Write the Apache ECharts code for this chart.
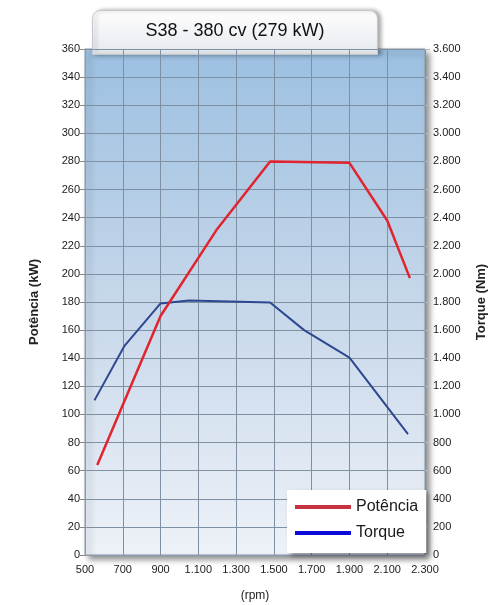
<!DOCTYPE html>
<html><head><meta charset="utf-8">
<script src="https://cdn.jsdelivr.net/npm/echarts@6/dist/echarts.min.js"></script>
<style>html,body{margin:0;padding:0;background:#fff}#c{width:488px;height:605px}</style>
</head><body><div id="c"></div>
<script>
const titleText = 'S38 - 380 cv (279 kW)';
const potenciaName = 'Potência';
const torqueName = 'Torque';
// [rpm, kW]
const potencia = [[565,64],[900,170],[1200,232],[1480,280],[1900,279],[2100,238],[2220,197]];
// [rpm, Nm]
const torque = [[550,1100],[710,1490],[900,1790],[1050,1810],[1480,1797],[1660,1600],[1900,1405],[2210,860]];
const xMin = 500, xMax = 2300, xStep = 200;
const yMin = 0, yMax = 360, yStep = 20;
const y2Min = 0, y2Max = 3600, y2Step = 200;

const fmt = v => String(v).replace(/\B(?=(\d{3})+(?!\d))/g, '.');
const FONT = 'Liberation Sans';
const chart = echarts.init(document.getElementById('c'));
chart.setOption({
  animation: false,
  textStyle: {fontFamily: FONT},
  graphic: [{
    type: 'rect', z: 0, left: 92, top: 10,
    shape: {width: 285, height: 44, r: [8, 8, 0, 0]},
    style: {
      fill: new echarts.graphic.LinearGradient(0, 0, 0, 1, [{offset: 0, color: '#ffffff'}, {offset: 1, color: '#e4e8ee'}]),
      stroke: '#c4c8ce', lineWidth: 1,
      shadowBlur: 4, shadowColor: 'rgba(0,0,0,0.35)', shadowOffsetX: 3, shadowOffsetY: 0
    }
  }],
  title: {
    text: titleText, left: 230, top: 17, textAlign: 'center',
    textStyle: {fontFamily: FONT, fontSize: 18, fontWeight: 'normal', color: '#111'}
  },
  grid: {
    show: true, left: 85, right: 63, top: 49, bottom: 50,
    outerBoundsMode: 'none', containLabel: false,
    backgroundColor: new echarts.graphic.LinearGradient(0, 0, 0, 1, [
      {offset: 0, color: '#9cc0e1'}, {offset: 0.5, color: '#c6d7ea'}, {offset: 1, color: '#eef2f8'}]),
    borderColor: '#8a9aac', borderWidth: 1,
    shadowBlur: 6, shadowColor: 'rgba(0,0,0,0.45)', shadowOffsetX: 4, shadowOffsetY: 4
  },
  legend: {
    orient: 'vertical', left: 287, top: 490, z: 10,
    backgroundColor: '#ffffff', padding: [9, 8, 12, 8], itemGap: 10,
    shadowBlur: 5, shadowColor: 'rgba(0,0,0,0.4)', shadowOffsetX: 3, shadowOffsetY: 3,
    itemWidth: 56, itemHeight: 4,
    textStyle: {fontFamily: FONT, fontSize: 16, color: '#1a1a1a'},
    data: [
      {name: potenciaName, icon: 'rect', itemStyle: {color: '#c8323e'}},
      {name: torqueName, icon: 'rect', itemStyle: {color: '#0a0ad8'}}
    ]
  },
  xAxis: {
    type: 'value', min: xMin, max: xMax, interval: xStep,
    name: '(rpm)', nameLocation: 'middle', nameGap: 35,
    nameTextStyle: {fontSize: 12, color: '#222', fontFamily: FONT},
    axisLine: {show: true, lineStyle: {color: '#8a9aac'}},
    axisTick: {show: false},
    axisLabel: {formatter: fmt, fontSize: 11, color: '#1a1a1a', margin: 9, fontFamily: FONT},
    splitLine: {show: true, lineStyle: {color: '#7f90a2', width: 1}}
  },
  yAxis: [{
    type: 'value', min: yMin, max: yMax, interval: yStep,
    name: 'Potência (kW)', nameLocation: 'middle', nameGap: 44, nameRotate: 90,
    nameTextStyle: {fontSize: 13, fontWeight: 'bold', color: '#222', fontFamily: FONT},
    axisLine: {show: true, lineStyle: {color: '#8a9aac'}},
    axisTick: {show: true, length: 5, lineStyle: {color: '#888'}},
    axisLabel: {fontSize: 11, color: '#1a1a1a', margin: 5, fontFamily: FONT},
    splitLine: {show: true, lineStyle: {color: '#7f90a2', width: 1}}
  }, {
    type: 'value', min: y2Min, max: y2Max, interval: y2Step, position: 'right',
    name: 'Torque (Nm)', nameLocation: 'middle', nameGap: 50, nameRotate: 90,
    nameTextStyle: {fontSize: 13, fontWeight: 'bold', color: '#222', fontFamily: FONT},
    axisLine: {show: false},
    axisTick: {show: true, length: 5, lineStyle: {color: '#bbb'}},
    axisLabel: {formatter: fmt, fontSize: 11, color: '#1a1a1a', margin: 8, fontFamily: FONT},
    splitLine: {show: false}
  }],
  series: [{
    name: potenciaName, type: 'line', yAxisIndex: 0, data: potencia, symbol: 'none', z: 3,
    lineStyle: {color: '#e0252e', width: 2.5}, itemStyle: {color: '#e0252e'}
  }, {
    name: torqueName, type: 'line', yAxisIndex: 1, data: torque, symbol: 'none', z: 2,
    lineStyle: {color: '#2d4890', width: 2}, itemStyle: {color: '#2d4890'}
  }]
});
</script></body></html>
